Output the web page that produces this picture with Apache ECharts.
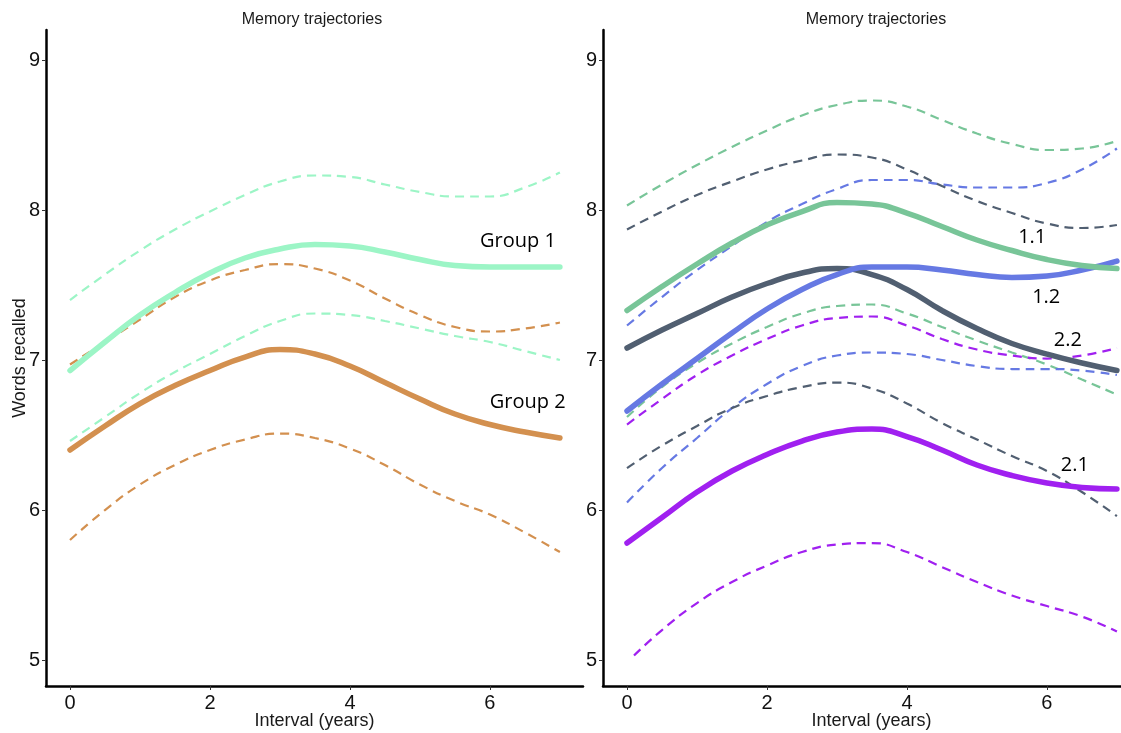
<!DOCTYPE html>
<html>
<head>
<meta charset="utf-8">
<script src="https://cdn.jsdelivr.net/npm/echarts@6/dist/echarts.min.js"></script>
<style>html,body{margin:0;padding:0;background:#fff}#c{width:1121px;height:733px}</style>
</head>
<body>
<div id="c"></div>
<script>
// ---- data ----
const xs = [0, 0.5, 1, 1.5, 2, 2.5, 3, 3.5, 4, 4.5, 5, 5.5, 6, 6.5, 7];
const xsLow21 = [0.1, 0.5, 1, 1.5, 2, 2.5, 3, 3.5, 4, 4.5, 5, 5.5, 6, 6.5, 7];
const yTicks = [5, 6, 7, 8, 9];
const xTicks = [0, 2, 4, 6];

// left panel
const g1 = [6.93, 7.12, 7.30, 7.45, 7.58, 7.68, 7.74, 7.77, 7.76, 7.72, 7.67, 7.63, 7.62, 7.62, 7.62];
const g1Up = [7.40, 7.57, 7.73, 7.87, 7.99, 8.10, 8.19, 8.23, 8.22, 8.17, 8.12, 8.09, 8.09, 8.15, 8.25];
const g1Lo = [6.46, 6.62, 6.78, 6.92, 7.04, 7.16, 7.26, 7.31, 7.30, 7.26, 7.21, 7.16, 7.12, 7.06, 7.00];
const g2 = [6.40, 6.56, 6.71, 6.83, 6.93, 7.02, 7.07, 7.04, 6.96, 6.85, 6.74, 6.64, 6.57, 6.52, 6.48];
const g2Up = [6.97, 7.12, 7.27, 7.42, 7.53, 7.60, 7.64, 7.61, 7.53, 7.41, 7.30, 7.22, 7.19, 7.21, 7.25];
const g2Lo = [5.80, 6.00, 6.17, 6.30, 6.40, 6.47, 6.51, 6.48, 6.41, 6.30, 6.17, 6.06, 5.97, 5.85, 5.72];

// right panel
const s11 = [7.33, 7.49, 7.64, 7.78, 7.90, 7.99, 8.05, 8.04, 7.98, 7.89, 7.80, 7.73, 7.67, 7.63, 7.61];
const s11Up = [8.03, 8.17, 8.30, 8.42, 8.53, 8.63, 8.70, 8.73, 8.69, 8.60, 8.51, 8.44, 8.40, 8.41, 8.46];
const s11Lo = [6.62, 6.82, 6.98, 7.11, 7.22, 7.31, 7.36, 7.37, 7.31, 7.22, 7.13, 7.05, 6.97, 6.87, 6.77];
const s12 = [6.66, 6.84, 7.01, 7.18, 7.34, 7.47, 7.57, 7.62, 7.62, 7.60, 7.57, 7.55, 7.56, 7.60, 7.66];
const s12Up = [7.23, 7.42, 7.60, 7.76, 7.92, 8.04, 8.14, 8.20, 8.20, 8.17, 8.15, 8.15, 8.18, 8.27, 8.41];
const s12Lo = [6.05, 6.28, 6.48, 6.68, 6.84, 6.96, 7.03, 7.05, 7.04, 7.00, 6.96, 6.94, 6.94, 6.93, 6.90];
const s22 = [7.08, 7.20, 7.31, 7.42, 7.51, 7.58, 7.61, 7.57, 7.47, 7.33, 7.21, 7.11, 7.04, 6.98, 6.93];
const s22Up = [7.87, 7.99, 8.10, 8.19, 8.27, 8.33, 8.37, 8.35, 8.27, 8.16, 8.06, 7.98, 7.91, 7.88, 7.90];
const s22Lo = [6.28, 6.43, 6.56, 6.68, 6.76, 6.82, 6.85, 6.81, 6.71, 6.58, 6.47, 6.36, 6.26, 6.12, 5.96];
const s21 = [5.78, 5.95, 6.12, 6.26, 6.37, 6.46, 6.52, 6.54, 6.49, 6.40, 6.30, 6.23, 6.18, 6.15, 6.14];
const s21Up = [6.57, 6.74, 6.90, 7.03, 7.14, 7.23, 7.28, 7.29, 7.23, 7.14, 7.07, 7.03, 7.01, 7.03, 7.08];
const s21Lo = [5.03, 5.20, 5.38, 5.52, 5.63, 5.72, 5.77, 5.78, 5.72, 5.62, 5.52, 5.43, 5.36, 5.29, 5.19];

// text labels
const leftLabels = ['Group 1', 'Group 2'];
const leftLabelX = [6.4, 6.54];
const leftLabelY = [7.79, 6.72];
const rightLabels = ['1.1', '1.2', '2.2', '2.1'];
const rightLabelX = [5.79, 5.99, 6.3, 6.4];
const rightLabelY = [7.82, 7.42, 7.13, 6.3];

// ---- chart ----
const C = {
  g1: '#9cf5c6', g2: '#d3904f',
  s11: '#78c598', s12: '#6679e3', s22: '#515f71', s21: '#a020f0'
};
const pair = (xv, yv) => xv.map((x, i) => [x, yv[i]]);

function solid(name, xv, yv, color, gi) {
  return { type: 'line', name, xAxisIndex: gi, yAxisIndex: gi, data: pair(xv, yv),
    smooth: 0.5, smoothConstraint: false, symbol: 'none', z: 5,
    lineStyle: { color, width: 5.5, cap: 'round' } };
}
function dashed(name, xv, yv, color, gi) {
  return { type: 'line', name, xAxisIndex: gi, yAxisIndex: gi, data: pair(xv, yv),
    smooth: 0.5, smoothConstraint: false, symbol: 'none', z: 3,
    lineStyle: { color, width: 2.2, type: [9, 6] } };
}
function labels(names, lx, ly, gi) {
  return { type: 'scatter', xAxisIndex: gi, yAxisIndex: gi, symbolSize: 0, z: 10,
    itemStyle: { opacity: 1 },
    data: names.map((n, i) => ({ value: [lx[i], ly[i]], name: n })),
    label: { show: true, position: 'inside', formatter: p => p.name, opacity: 1,
      fontFamily: 'Open Sans', fontSize: 20, color: '#000' } };
}

const axisFont = 'Liberation Sans';
function xAxis(gi) {
  return {
    type: 'value', gridIndex: gi, min: -0.343, max: 7.33,
    name: 'Interval (years)', nameLocation: 'middle', nameGap: 26, nameMoveOverlap: false,
    nameTextStyle: { fontFamily: axisFont, fontSize: 18, color: '#1a1a1a', verticalAlign: 'top' },
    axisLine: { show: true, onZero: false, lineStyle: { color: '#000', width: 2.5 } },
    axisTick: { show: true, length: 4, customValues: xTicks, lineStyle: { color: '#333', width: 1 } },
    axisLabel: { customValues: xTicks, fontFamily: axisFont, fontSize: 20, color: '#111', margin: 7 },
    splitLine: { show: false }
  };
}
function yAxis(gi, withName) {
  return {
    type: 'value', gridIndex: gi, min: 4.827, max: 9.2,
    name: withName ? 'Words recalled' : '', nameLocation: 'middle', nameGap: 17, nameMoveOverlap: false,
    nameTextStyle: { fontFamily: axisFont, fontSize: 18, color: '#1a1a1a' },
    axisLine: { show: true, onZero: false, lineStyle: { color: '#000', width: 2.5 } },
    axisTick: { show: true, length: 4, customValues: yTicks, lineStyle: { color: '#333', width: 1 } },
    axisLabel: { customValues: yTicks, fontFamily: axisFont, fontSize: 20, color: '#111', margin: 6 },
    splitLine: { show: false }
  };
}

const chart = echarts.init(document.getElementById('c'), null, { renderer: 'canvas' });
chart.setOption({
  animation: false,
  backgroundColor: '#fff',
  title: [
    { text: 'Memory trajectories', left: 307, top: 7, textAlign: 'center',
      textStyle: { fontFamily: axisFont, fontSize: 16, fontWeight: 'normal', color: '#1a1a1a' } },
    { text: 'Memory trajectories', left: 871, top: 7, textAlign: 'center',
      textStyle: { fontFamily: axisFont, fontSize: 16, fontWeight: 'normal', color: '#1a1a1a' } }
  ],
  grid: [
    { left: 46, top: 30, width: 537, height: 656, outerBoundsMode: 'none', containLabel: false },
    { left: 603, top: 30, width: 537, height: 656, outerBoundsMode: 'none', containLabel: false }
  ],
  xAxis: [xAxis(0), xAxis(1)],
  yAxis: [yAxis(0, true), yAxis(1, false)],
  series: [
    dashed('g1 upper', xs, g1Up, C.g1, 0),
    dashed('g1 lower', xs, g1Lo, C.g1, 0),
    dashed('g2 upper', xs, g2Up, C.g2, 0),
    dashed('g2 lower', xs, g2Lo, C.g2, 0),
    solid('Group 2', xs, g2, C.g2, 0),
    solid('Group 1', xs, g1, C.g1, 0),
    labels(leftLabels, leftLabelX, leftLabelY, 0),

    dashed('1.1 upper', xs, s11Up, C.s11, 1),
    dashed('1.1 lower', xs, s11Lo, C.s11, 1),
    dashed('1.2 upper', xs, s12Up, C.s12, 1),
    dashed('1.2 lower', xs, s12Lo, C.s12, 1),
    dashed('2.2 upper', xs, s22Up, C.s22, 1),
    dashed('2.2 lower', xs, s22Lo, C.s22, 1),
    dashed('2.1 upper', xs, s21Up, C.s21, 1),
    dashed('2.1 lower', xsLow21, s21Lo, C.s21, 1),
    solid('2.1', xs, s21, C.s21, 1),
    solid('2.2', xs, s22, C.s22, 1),
    solid('1.2', xs, s12, C.s12, 1),
    solid('1.1', xs, s11, C.s11, 1),
    labels(rightLabels, rightLabelX, rightLabelY, 1)
  ]
});
</script>
</body>
</html>
